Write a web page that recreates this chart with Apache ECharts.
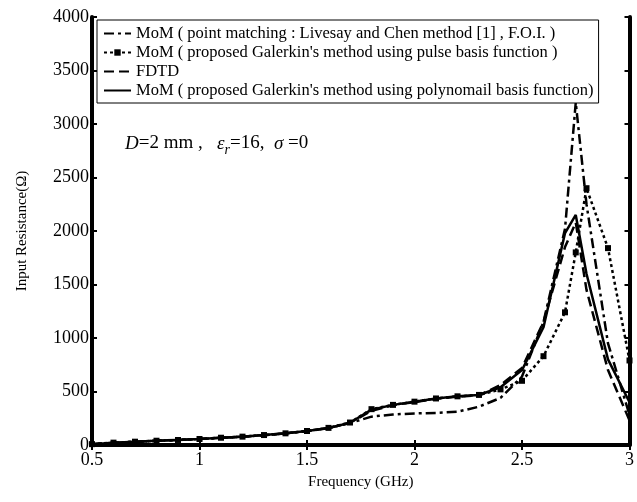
<!DOCTYPE html>
<html>
<head>
<meta charset="utf-8">
<script src="https://cdn.jsdelivr.net/npm/echarts@6/dist/echarts.min.js"></script>
<style>
html,body{margin:0;padding:0;background:#fff;}
#main{width:637px;height:502px;}
</style>
</head>
<body>
<div id="main"></div>
<script>
// frequency points (GHz)
var freq=[0.5,0.6,0.7,0.8,0.9,1.0,1.1,1.2,1.3,1.4,1.5,1.6,1.7,1.8,1.9,2.0,2.1,2.2,2.3,2.4,2.5,2.6,2.7,2.75,2.8,2.9,3.0];
// input resistance (ohm) for each method
var pointMatch=[8,20,30,39,47,56,67,78,92,108,130,158,205,265,285,295,300,311,358,440,640,1150,2020,3200,2250,950,280];
var pulseBasis=[8,22,31,40,47,56,68,78,93,109,131,160,210,335,375,405,435,455,468,520,600,830,1240,1800,2400,1840,790];
var fdtd=[8,21,30,40,47,56,68,78,93,109,131,158,208,320,372,402,432,452,465,560,720,1150,1850,2080,1450,700,230];
var polyBasis=[8,21,30,40,47,56,68,78,93,109,131,158,208,330,375,405,435,455,467,540,700,1100,1980,2150,1600,800,400];
var xTicks=[0.5,1,1.5,2,2.5,3];
var yTicks=[0,500,1000,1500,2000,2500,3000,3500,4000];
var names=[
    "MoM ( point matching : Livesay and Chen method [1] , F.O.I. )",
    "MoM ( proposed Galerkin's method using pulse basis function )",
    "FDTD",
    "MoM ( proposed Galerkin's method using polynomail basis function)"
];

function pairs(ys){
    var out=[];
    for(let i=0;i<freq.length;i++){
        out.push([freq[i],ys[i]]);
    }
    return out;
}

var font='"Liberation Serif","Times New Roman",serif';
var chart=echarts.init(document.getElementById("main"));
var axisBase={
    axisLine:{show:true,lineStyle:{color:'#000',width:4}},
    axisTick:{show:true,inside:true,length:5,lineStyle:{color:'#000',width:2}},
    splitLine:{show:false}
};
var noMark={opacity:0};
var option={
    animation:false,
    backgroundColor:'#fff',
    grid:{left:92,right:4,top:17,bottom:57,containLabel:false},
    legend:{
        orient:'vertical',
        left:97,
        top:20,
        padding:[5,5,4,6],
        itemGap:2,
        itemWidth:27,
        itemHeight:8,
        borderColor:'#000',
        borderWidth:1,
        borderRadius:0,
        backgroundColor:'#fff',
        textStyle:{fontFamily:font,fontSize:16.5,color:'#000'},
        data:[
            {name:names[0],itemStyle:noMark},
            {name:names[1]},
            {name:names[2],itemStyle:noMark},
            {name:names[3],itemStyle:noMark}
        ]
    },
    xAxis:[
        Object.assign({
            type:'value',min:0.5,max:3,interval:0.5,
            name:'Frequency (GHz)',nameLocation:'middle',nameGap:30,
            nameTextStyle:{fontFamily:font,fontSize:15,color:'#000'},
            axisLabel:{fontFamily:font,fontSize:18,color:'#000',margin:6,
                formatter:function(v){return xTicks.indexOf(v)>=0?String(v):'';}}
        },axisBase),
        Object.assign({
            type:'value',min:0.5,max:3,interval:0.5,position:'top',
            axisLabel:{show:false}
        },axisBase)
    ],
    yAxis:[
        Object.assign({
            type:'value',min:0,max:4000,interval:500,
            name:'Input Resistance(Ω)',nameLocation:'middle',nameGap:62,
            nameTextStyle:{fontFamily:font,fontSize:15,color:'#000'},
            axisLabel:{fontFamily:font,fontSize:18,color:'#000',margin:3,
                formatter:function(v){return yTicks.indexOf(v)>=0?String(v):'';}}
        },axisBase),
        Object.assign({
            type:'value',min:0,max:4000,interval:500,position:'right',
            axisLabel:{show:false}
        },axisBase)
    ],
    graphic:[{
        type:'text',
        left:125,
        top:134,
        z:100,
        style:{
            text:'{i|D}=2 mm ,   {i|ε}{sub|r}=16,  {i|σ} =0',
            fill:'#000',
            font:'19px '+font,
            rich:{
                i:{fontFamily:font,fontSize:19,fontStyle:'italic'},
                sub:{fontFamily:font,fontSize:14,fontStyle:'italic',padding:[14,0,0,0]}
            }
        }
    }],
    series:[
        {
            name:names[0],type:'line',symbol:'none',
            lineStyle:{color:'#000',width:2.5,type:[10,4,3,4]},
            itemStyle:{color:'#000'},
            data:pairs(pointMatch)
        },
        {
            name:names[1],type:'line',symbol:'rect',symbolSize:6,
            lineStyle:{color:'#000',width:2.5,type:[3,3]},
            itemStyle:{color:'#000'},
            data:pairs(pulseBasis)
        },
        {
            name:names[2],type:'line',symbol:'none',
            lineStyle:{color:'#000',width:2.5,type:[10,5]},
            itemStyle:{color:'#000'},
            data:pairs(fdtd)
        },
        {
            name:names[3],type:'line',symbol:'none',
            lineStyle:{color:'#000',width:2.5,type:'solid'},
            itemStyle:{color:'#000'},
            data:pairs(polyBasis)
        }
    ]
};
chart.setOption(option);
</script>
</body>
</html>
